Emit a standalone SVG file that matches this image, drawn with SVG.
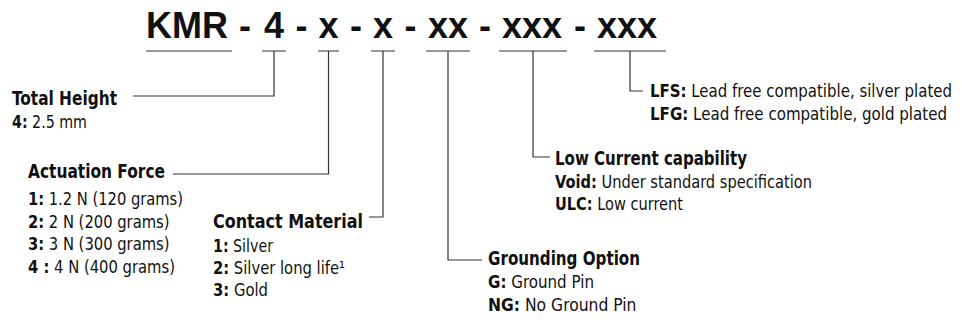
<svg xmlns="http://www.w3.org/2000/svg" width="962" height="322" viewBox="0 0 962 322">
<style>
.t{font-family:"DejaVu Sans Condensed","DejaVu Sans","Liberation Sans",sans-serif;font-stretch:condensed;fill:#111}
.title{font-family:"Liberation Sans",Arial,sans-serif;font-weight:bold;font-size:36px;fill:#111;text-anchor:middle}
.h{font-weight:bold;font-size:19.5px}
.v{font-size:17px}
.b{font-weight:bold}
.ul{stroke:#777;stroke-width:1.3;fill:none}
.c{stroke:#333;stroke-width:1.2;fill:none}
</style>
<rect width="962" height="322" fill="#fff"/>
<g id="title">
<text class="title" x="187" y="38">KMR</text>
<text class="title" x="245" y="38">-</text>
<text class="title" x="274" y="38">4</text>
<text class="title" x="301.5" y="38">-</text>
<text class="title" x="328.5" y="38">x</text>
<text class="title" x="356" y="38">-</text>
<text class="title" x="383" y="38">x</text>
<text class="title" x="410.5" y="38">-</text>
<text class="title" x="448" y="38">xx</text>
<text class="title" x="485" y="38">-</text>
<text class="title" x="532" y="38">xxx</text>
<text class="title" x="580" y="38">-</text>
<text class="title" x="627" y="38">xxx</text>
</g>
<g id="connectors">
<path class="ul" d="M146 51H232M262 51H286M318 51H339M371 51H395M426 51H470M499 51H567M594 51H666"/>
<path class="c" d="M274 51V96H133"/>
<path class="c" d="M328.5 51V174H173"/>
<path class="c" d="M383 51V217H369"/>
<path class="c" d="M448 51V260H482"/>
<path class="c" d="M533 51V157H550"/>
<path class="c" d="M630 51V91H643"/>
</g>
<g id="total-height">
<text class="t h" x="12" y="105" textLength="105" lengthAdjust="spacingAndGlyphs">Total Height</text>
<text class="t v" x="12" y="128" textLength="75" lengthAdjust="spacingAndGlyphs"><tspan class="b">4:</tspan> 2.5 mm</text>
</g>
<g id="actuation-force">
<text class="t h" x="28" y="178" textLength="137" lengthAdjust="spacingAndGlyphs">Actuation Force</text>
<text class="t v" x="28" y="205" textLength="155" lengthAdjust="spacingAndGlyphs"><tspan class="b">1:</tspan> 1.2 N (120 grams)</text>
<text class="t v" x="28" y="227.5" textLength="141.5" lengthAdjust="spacingAndGlyphs"><tspan class="b">2:</tspan> 2 N (200 grams)</text>
<text class="t v" x="28" y="250" textLength="141.5" lengthAdjust="spacingAndGlyphs"><tspan class="b">3:</tspan> 3 N (300 grams)</text>
<text class="t v" x="28" y="272.5" textLength="147" lengthAdjust="spacingAndGlyphs"><tspan class="b">4 :</tspan> 4 N (400 grams)</text>
</g>
<g id="contact-material">
<text class="t h" x="213" y="228" textLength="150" lengthAdjust="spacingAndGlyphs">Contact Material</text>
<text class="t v" x="213" y="251.5" textLength="60" lengthAdjust="spacingAndGlyphs"><tspan class="b">1:</tspan> Silver</text>
<text class="t v" x="213" y="273.5" textLength="132" lengthAdjust="spacingAndGlyphs"><tspan class="b">2:</tspan> Silver long life¹</text>
<text class="t v" x="213" y="295.5" textLength="55" lengthAdjust="spacingAndGlyphs"><tspan class="b">3:</tspan> Gold</text>
</g>
<g id="grounding-option">
<text class="t h" x="488" y="265" textLength="152" lengthAdjust="spacingAndGlyphs">Grounding Option</text>
<text class="t v" x="488" y="288" textLength="106" lengthAdjust="spacingAndGlyphs"><tspan class="b">G:</tspan> Ground Pin</text>
<text class="t v" x="488" y="311" textLength="148.5" lengthAdjust="spacingAndGlyphs"><tspan class="b">NG:</tspan> No Ground Pin</text>
</g>
<g id="low-current">
<text class="t h" x="555" y="165" textLength="192" lengthAdjust="spacingAndGlyphs">Low Current capability</text>
<text class="t v" x="555" y="187.5" textLength="257" lengthAdjust="spacingAndGlyphs"><tspan class="b">Void:</tspan> Under standard specification</text>
<text class="t v" x="555" y="210" textLength="128" lengthAdjust="spacingAndGlyphs"><tspan class="b">ULC:</tspan> Low current</text>
</g>
<g id="lead-free">
<text class="t v" x="650" y="96.5" textLength="302" lengthAdjust="spacingAndGlyphs"><tspan class="b">LFS:</tspan> Lead free compatible, silver plated</text>
<text class="t v" x="650" y="119.5" textLength="297" lengthAdjust="spacingAndGlyphs"><tspan class="b">LFG:</tspan> Lead free compatible, gold plated</text>
</g>
</svg>
